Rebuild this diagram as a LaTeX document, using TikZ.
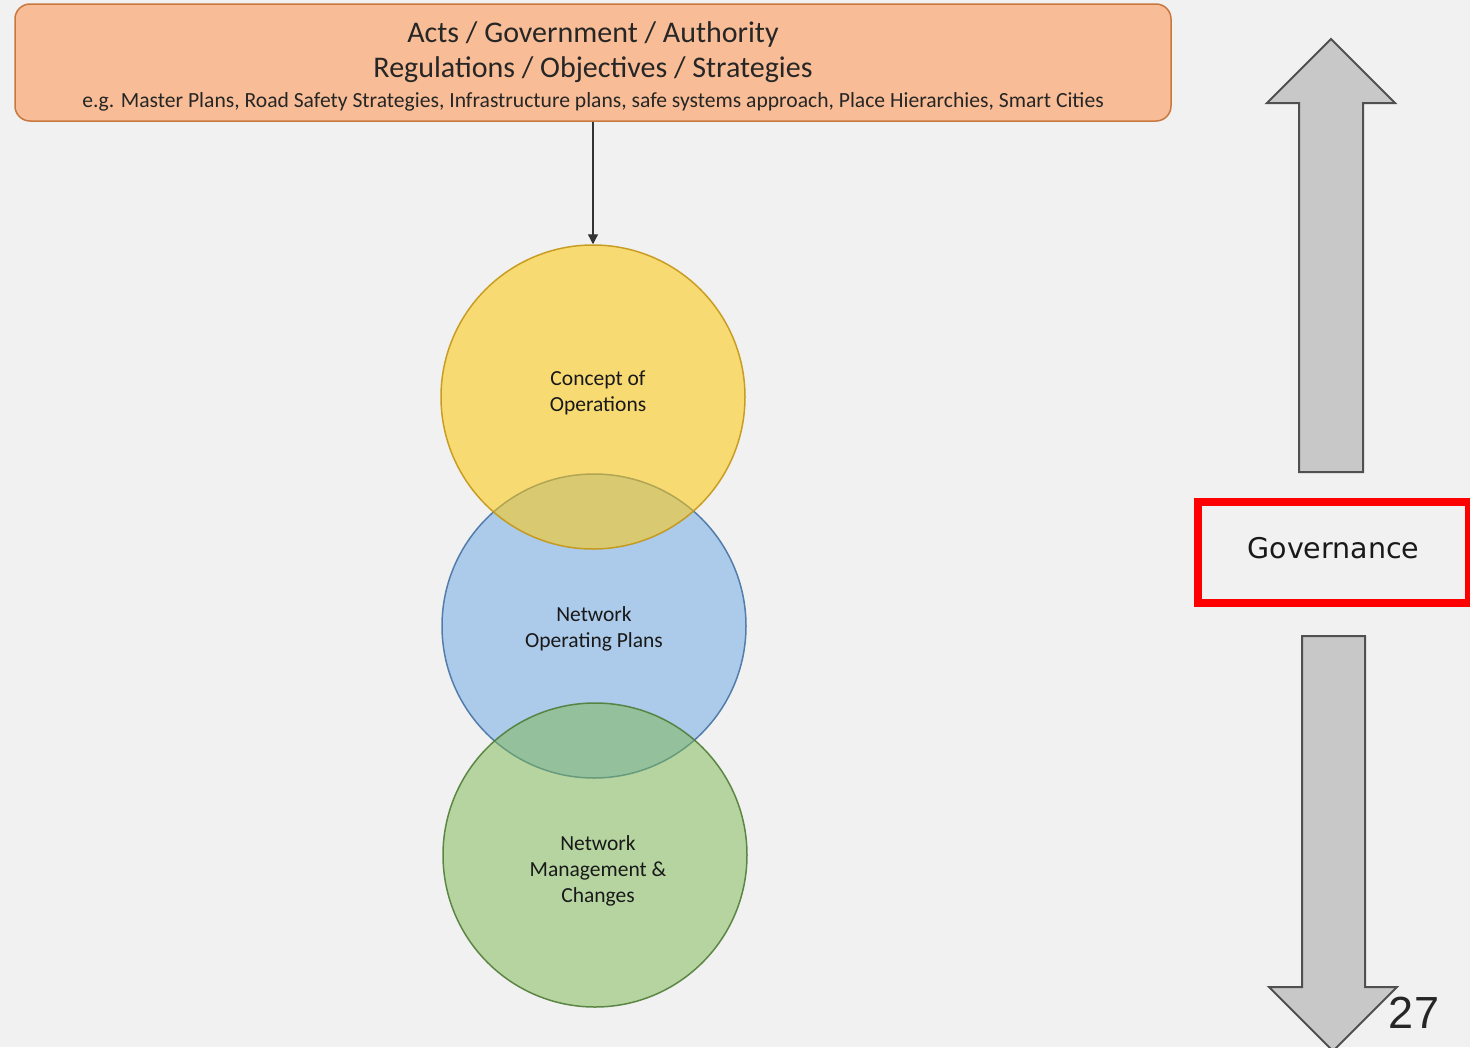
\documentclass[tikz,border=0pt]{standalone}
\usepackage{fontspec}
\setmainfont{Carlito}
\newfontfamily\govfont{DejaVu Sans}
\newfontfamily\numfont{Liberation Sans}
\usetikzlibrary{arrows.meta}

\definecolor{pagebg}{RGB}{241,241,241}
\definecolor{actsfill}{RGB}{248,189,150}
\definecolor{actsline}{RGB}{200,120,62}
\definecolor{yelfill}{RGB}{255,200,12}
\definecolor{yelline}{RGB}{196,150,20}
\definecolor{bluefill}{RGB}{104,166,228}
\definecolor{blueline}{RGB}{70,115,165}
\definecolor{grnfill}{RGB}{125,185,80}
\definecolor{grnline}{RGB}{80,125,55}
\definecolor{arrowfill}{RGB}{200,200,200}
\definecolor{arrowline}{RGB}{80,80,80}
\definecolor{govred}{RGB}{255,0,0}

\tikzset{
  actsbox/.style={draw=actsline, fill=actsfill, line width=1.5pt, rounded corners=15pt,
    minimum width=1156pt, minimum height=117pt, inner sep=0pt},
  bigtext/.style={font=\fontsize{30}{35}\selectfont, text=black!85, anchor=base},
  smalltext/.style={font=\fontsize{21.6}{25}\selectfont, text=black!85, anchor=base},
  venn/.style={circle, line width=1.5pt, minimum size=304pt, inner sep=0pt,
    fill opacity=0.5, draw opacity=0.9},
  yelvenn/.style={venn, fill opacity=0.55},
  venntext/.style={font=\fontsize{21.5}{26}\selectfont, align=center, text=black!90},
  bigarrow/.style={draw=arrowline, fill=arrowfill, line width=2pt, line join=miter},
  govbox/.style={draw=govred, line width=8pt, minimum width=271pt, minimum height=101pt,
    inner sep=0pt, font=\govfont\fontsize{28.5}{32}\selectfont, text=black!90},
  flow/.style={draw=black!80, line width=1.3pt, -{Triangle[length=10pt,width=10pt]}}
}

\begin{document}
\begin{tikzpicture}[x=1pt,y=-1pt]
  % page
  \fill[pagebg] (0,0) rectangle (1470,1047);
  \useasboundingbox (0,0) rectangle (1470,1047);

  % legislative / strategic frame
  \node[actsbox] (acts) at (593,62.5) {};
  \node[bigtext] (actsa) at (593,42) {Acts / Government / Authority};
  \node[bigtext] (actsb) at (593,77) {Regulations / Objectives / Strategies};
  \node[smalltext] (actsc) at (593,107) {e.g. Master Plans, Road Safety Strategies, Infrastructure plans, safe systems approach, Place Hierarchies, Smart Cities};

  % overlapping operations circles (blue underneath, the other two over it)
  \node[venn, fill=bluefill, draw=blueline] (netops) at (594,626) {};
  \node[yelvenn, fill=yelfill, draw=yelline] (conops) at (593,397) {};
  \node[venn, fill=grnfill, draw=grnline] (netman) at (595,855) {};
  \node[venntext] (conopst) at (598,393) {Concept of\\Operations};
  \node[venntext] (netopst) at (594,629) {Network\\Operating Plans};
  \node[venntext] (netmant) at (598,871) {Network\\Management \&\\Changes};

  \draw[flow] (acts.south -| conops.north) -- (conops.north);

  % governance arrows
  \draw[bigarrow] (1331,39) -- (1395,103) -- (1363,103) -- (1363,472) -- (1299,472)
    -- (1299,103) -- (1267,103) -- cycle;
  \draw[bigarrow] (1302,636) -- (1365,636) -- (1365,987) -- (1397,987) -- (1333,1051)
    -- (1269,987) -- (1302,987) -- cycle;

  \node[govbox] (gov) at (1333.5,552.5) {\raisebox{10pt}{Governance}};

  \node[font=\numfont\fontsize{45}{50}\selectfont, text=black!85] (pagenum) at (1414,1013) {27};
\end{tikzpicture}
\end{document}
